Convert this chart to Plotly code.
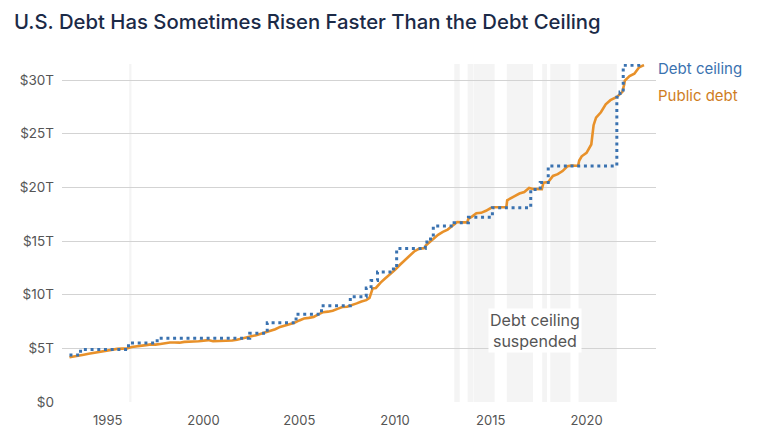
import plotly.graph_objects as go

# ---- data ----
debt_dates = [
    "1993-01-01", "1993-04-01", "1993-07-01", "1993-10-01",
    "1994-01-01", "1994-04-01", "1994-07-01", "1994-10-01",
    "1995-01-01", "1995-04-01", "1995-07-01", "1995-10-01",
    "1996-01-01", "1996-04-01", "1996-07-01", "1996-10-01",
    "1997-01-01", "1997-04-01", "1997-07-01", "1997-10-01",
    "1998-01-01", "1998-04-01", "1998-07-01", "1998-10-01",
    "1999-01-01", "1999-04-01", "1999-07-01", "1999-10-01",
    "2000-01-01", "2000-04-01", "2000-07-01", "2000-10-01",
    "2001-01-01", "2001-04-01", "2001-07-01", "2001-10-01",
    "2002-01-01", "2002-04-01", "2002-07-01", "2002-10-01",
    "2003-01-01", "2003-04-01", "2003-07-01", "2003-10-01",
    "2004-01-01", "2004-04-01", "2004-07-01", "2004-10-01",
    "2005-01-01", "2005-04-01", "2005-07-01", "2005-10-01",
    "2006-01-01", "2006-04-01", "2006-07-01", "2006-10-01",
    "2007-01-01", "2007-04-01", "2007-07-01", "2007-10-01",
    "2008-01-01", "2008-04-01", "2008-07-01", "2008-09-01", "2008-11-01",
    "2009-01-01", "2009-04-01", "2009-07-01", "2009-10-01",
    "2010-01-01", "2010-04-01", "2010-07-01", "2010-10-01",
    "2011-01-01", "2011-04-01", "2011-05-15", "2011-07-25", "2011-08-10", "2011-10-01",
    "2012-01-01", "2012-04-01", "2012-07-01", "2012-10-01",
    "2013-01-01", "2013-04-01", "2013-07-01", "2013-10-10", "2013-11-01",
    "2014-01-01", "2014-04-01", "2014-07-01", "2014-10-01",
    "2015-01-01", "2015-03-15", "2015-10-25", "2015-11-10",
    "2016-01-01", "2016-04-01", "2016-07-01", "2016-10-01",
    "2017-01-01", "2017-03-15", "2017-09-01", "2017-10-01",
    "2018-01-01", "2018-04-01", "2018-07-01", "2018-10-01",
    "2019-01-01", "2019-03-15", "2019-07-25", "2019-08-15", "2019-10-01",
    "2020-01-01", "2020-04-01", "2020-05-15", "2020-07-01", "2020-10-01",
    "2021-01-01", "2021-04-01", "2021-08-01", "2021-11-15", "2021-12-20",
    "2022-01-01", "2022-04-01", "2022-07-01", "2022-10-01", "2023-01-01",
]
debt_values = [
    4.17, 4.23, 4.35, 4.41,
    4.50, 4.58, 4.62, 4.69,
    4.80, 4.86, 4.95, 4.97,
    4.99, 5.12, 5.16, 5.22,
    5.30, 5.37, 5.35, 5.41,
    5.50, 5.54, 5.55, 5.53,
    5.60, 5.65, 5.64, 5.66,
    5.71, 5.77, 5.66, 5.67,
    5.70, 5.67, 5.73, 5.81,
    5.94, 6.00, 6.13, 6.23,
    6.37, 6.46, 6.67, 6.78,
    7.00, 7.13, 7.27, 7.38,
    7.60, 7.78, 7.84, 7.93,
    8.17, 8.37, 8.42, 8.51,
    8.68, 8.85, 8.87, 9.01,
    9.19, 9.37, 9.49, 9.70, 10.59,
    10.63, 11.13, 11.53, 11.91,
    12.31, 12.77, 13.20, 13.56,
    14.03, 14.27, 14.29, 14.34, 14.58, 14.79,
    15.23, 15.58, 15.86, 16.07,
    16.43, 16.77, 16.74, 16.74, 17.10,
    17.26, 17.60, 17.63, 17.82,
    18.08, 18.15, 18.15, 18.80,
    18.92, 19.19, 19.43, 19.57,
    19.95, 19.85, 19.84, 20.44,
    20.49, 21.07, 21.23, 21.52,
    21.97, 22.03, 22.02, 22.50, 22.90,
    23.22, 24.00, 25.80, 26.50, 27.00,
    27.75, 28.13, 28.43, 28.90, 29.60,
    29.95, 30.37, 30.60, 31.20, 31.40,
]

ceiling_dates = [
    "1993-01-01", "1993-08-01", "1996-02-01", "1997-08-01", "2002-06-01",
    "2003-05-01", "2004-11-01", "2006-03-01", "2007-09-01", "2008-07-01",
    "2008-10-01", "2009-02-01", "2009-12-01", "2010-02-01", "2011-08-01",
    "2011-09-01", "2012-01-01", "2013-02-01", "2013-11-01", "2015-02-01",
    "2017-02-01", "2017-08-01", "2018-01-01", "2021-08-01", "2021-10-01",
    "2021-12-01", "2023-01-01",
]
ceiling_values = [
    4.37, 4.90, 5.50, 5.95, 6.40,
    7.384, 8.184, 8.965, 9.815, 10.615,
    11.315, 12.104, 12.394, 14.294, 14.694,
    15.194, 16.394, 16.699, 17.212, 18.113,
    19.809, 20.456, 21.988, 28.401, 28.881,
    31.381, 31.381,
]

suspended_start = ["1996-02-15", "2013-02-04", "2013-10-17", "2014-02-15",
                   "2015-11-02", "2017-09-08", "2018-02-09", "2019-08-02"]
suspended_end = ["1996-03-29", "2013-05-19", "2014-02-07", "2015-03-15",
                 "2017-03-15", "2017-12-08", "2019-03-01", "2021-07-31"]

y_tickvals = [0, 5, 10, 15, 20, 25, 30]
y_ticktext = ["$0", "$5T", "$10T", "$15T", "$20T", "$25T", "$30T"]

title_text = "U.S. Debt Has Sometimes Risen Faster Than the Debt Ceiling"

# ---- styling ----
FONT = "Inter"
BLUE = "#3a72b0"
ORANGE = "#e8912a"
ORANGE_TXT = "#cf7d1e"
GRAY_TXT = "#555555"

# the page body has an 8px margin; size the figure to fit inside the window
W, H = 750, 432

fig = go.Figure()

for s, e in zip(suspended_start, suspended_end):
    fig.add_shape(type="rect", xref="x", yref="paper", x0=s, x1=e, y0=0, y1=1,
                  fillcolor="#f4f4f4", line_width=0, layer="below")

fig.add_trace(go.Scatter(
    x=debt_dates, y=debt_values, mode="lines",
    line=dict(color=ORANGE, width=2.6), name="Public debt", hoverinfo="skip"))

fig.add_trace(go.Scatter(
    x=ceiling_dates, y=ceiling_values, mode="lines",
    line=dict(color=BLUE, width=3, dash="3px,3.7px", shape="hv"),
    name="Debt ceiling", hoverinfo="skip"))

fig.add_annotation(x=1, xref="paper", xanchor="left", xshift=0,
                   y=31.05, yref="y", yanchor="middle",
                   text="Debt ceiling", showarrow=False,
                   font=dict(family=FONT, size=15, color=BLUE))
fig.add_annotation(x=1, xref="paper", xanchor="left", xshift=0,
                   y=28.6, yref="y", yanchor="middle",
                   text="Public debt", showarrow=False,
                   font=dict(family=FONT, size=15, color=ORANGE_TXT))

fig.add_annotation(x="2017-04-15", y=6.63, xref="x", yref="y",
                   text="Debt ceiling<br>suspended", showarrow=False,
                   font=dict(family=FONT, size=16, color=GRAY_TXT),
                   bgcolor="white", borderpad=1, align="center")

fig.update_layout(
    width=W, height=H,
    margin=dict(l=50, r=102, t=56, b=36),
    paper_bgcolor="white", plot_bgcolor="white",
    showlegend=False,
    title=dict(text=title_text, x=6 / W, xref="container", xanchor="left",
               y=1 - 14 / H, yref="container", yanchor="middle",
               font=dict(family=FONT, size=20.3, weight=500, color="#1b2a47")),
    font=dict(family=FONT, color=GRAY_TXT),
)

fig.update_xaxes(
    type="date", range=["1992-08-12", "2023-08-18"],
    tick0="1995-01-01", dtick="M60", tickformat="%Y",
    showgrid=False, zeroline=False, showline=False, ticks="",
    ticklabelstandoff=9,
    tickfont=dict(family=FONT, size=13, color=GRAY_TXT),
)
fig.update_yaxes(
    range=[0, 31.5], tickvals=y_tickvals, ticktext=y_ticktext,
    showgrid=True, gridcolor="#d3d3d3", gridwidth=1,
    zeroline=False, showline=False, ticks="",
    ticklabelstandoff=7,
    tickfont=dict(family=FONT, size=13.5, color=GRAY_TXT),
)

fig.write_html("out.html")
